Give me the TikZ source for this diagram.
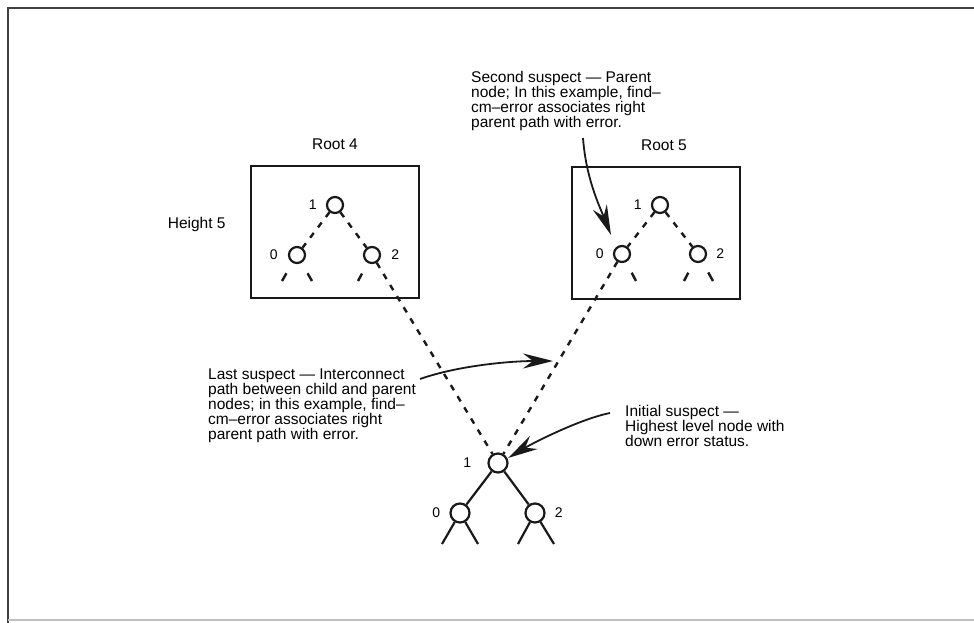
\documentclass[tikz,border=0pt]{standalone}
\usepackage{fontspec}
\setmainfont{Liberation Sans}
\usetikzlibrary{arrows.meta, positioning}
\tikzset{
    treeNode/.style={circle, draw, line width=2.2pt, minimum size=16pt, inner sep=0pt},
    bigNode/.style={treeNode, minimum size=19pt},
    rootBox/.style={draw, line width=2.4pt, minimum width=168pt, minimum height=132pt, inner sep=0pt},
    dashLink/.style={line width=2.4pt, dash pattern=on 6pt off 7pt},
    leafStub/.style={line width=2.4pt, shorten <=12pt},
    solidLink/.style={line width=2.2pt},
    digit/.style={font=\fontsize{14}{14}\selectfont, inner sep=0pt, text=black},
    caption/.style={font=\fontsize{15.5}{15}\selectfont, align=left, inner sep=0pt, text=black},
    pointer/.style={-{Stealth[length=30pt, width=15pt, inset=10pt]}, line width=1.8pt}
}

\begin{document}
\begin{tikzpicture}[x=1pt, y=-1pt, black!90]
    \useasboundingbox (0,0) rectangle (974,623);

    % --- FRAME ---
    \draw[line width=2.2pt, black!75] (8,623) -- (8,8) -- (974,8);
    \draw[line width=1.2pt, black!25] (8,620) -- (974,620);

    % --- ROOT 4 ---
    \node[rootBox] (box4) at (335,232) {};
    \node[caption, above=15pt of box4] (root4) {Root 4};
    \node[caption, left=24pt of box4, yshift=8pt] (height) {Height 5};

    \node[treeNode] (b4one) at (335,205) {};
    \node[treeNode] (b4zero) at (297,255) {};
    \node[treeNode] (b4two) at (372,255) {};
    \node[digit, left=9pt of b4one] {1};
    \node[digit, left=10pt of b4zero] {0};
    \node[digit, right=10pt of b4two] {2};
    \coordinate (b4a) at (282,281);
    \coordinate (b4b) at (312,281);
    \coordinate (b4c) at (358,281);
    \draw[dashLink] (b4one) -- (b4zero);
    \draw[dashLink] (b4one) -- (b4two);
    \draw[leafStub] (b4zero) -- (b4a);
    \draw[leafStub] (b4zero) -- (b4b);
    \draw[leafStub] (b4two) -- (b4c);

    % --- ROOT 5 ---
    \node[rootBox] (box5) at (656,233) {};
    \node[caption, above=15pt of box5, xshift=8pt] (root5) {Root 5};

    \node[treeNode] (b5one) at (660,205) {};
    \node[treeNode] (b5zero) at (622,254) {};
    \node[treeNode] (b5two) at (698,254) {};
    \node[digit, left=9pt of b5one] {1};
    \node[digit, left=9pt of b5zero] {0};
    \node[digit, right=9pt of b5two] {2};
    \coordinate (b5a) at (636,281);
    \coordinate (b5b) at (684,281);
    \coordinate (b5c) at (713,281);
    \draw[dashLink] (b5one) -- (b5zero);
    \draw[dashLink] (b5one) -- (b5two);
    \draw[leafStub] (b5zero) -- (b5a);
    \draw[leafStub] (b5two) -- (b5b);
    \draw[leafStub] (b5two) -- (b5c);

    % --- CHILD TREE ---
    \node[bigNode] (one) at (498,463) {};
    \node[bigNode] (zero) at (460,513) {};
    \node[bigNode] (two) at (535,513) {};
    \node[digit, left=16pt of one] {1};
    \node[digit, left=9pt of zero] {0};
    \node[digit, right=9pt of two] {2};
    \coordinate (la) at (442,544);
    \coordinate (lb) at (478,544);
    \coordinate (lc) at (518,544);
    \coordinate (ld) at (554,544);
    \draw[solidLink] (one) -- (zero);
    \draw[solidLink] (one) -- (two);
    \draw[solidLink] (zero) -- (la);
    \draw[solidLink] (zero) -- (lb);
    \draw[solidLink] (two) -- (lc);
    \draw[solidLink] (two) -- (ld);

    % Interconnect paths
    \draw[dashLink] (b4two) -- (one);
    \draw[dashLink] (b5zero) -- (one);

    % --- SUSPECTS ---
    \node[caption, anchor=north west] (second) at (471,71)
        {Second suspect — Parent\\node; In this example, find–\\cm–error associates right\\parent path with error.};
    \node[caption, anchor=north west] (last) at (208,369)
        {Last suspect — Interconnect\\path between child and parent\\nodes; in this example, find–\\cm–error associates right\\parent path with error.};
    \node[caption, anchor=north west] (initial) at (625,405)
        {Initial suspect —\\Highest level node with\\down error status.};

    \coordinate (secondFrom) at (583,138);
    \coordinate (secondTo) at (611,235);
    \coordinate (lastFrom) at (420,379);
    \coordinate (lastTo) at (553,361);
    \coordinate (initialFrom) at (610,413);
    \coordinate (initialTo) at (508,458);
    \draw[pointer] (secondFrom) .. controls +(3,40) and +(-12,-30) .. (secondTo);
    \draw[pointer] (lastFrom) .. controls +(40,-14) and +(-40,0) .. (lastTo);
    \draw[pointer] (initialFrom) .. controls +(-30,6) and +(25,-15) .. (initialTo);

\end{tikzpicture}
\end{document}
